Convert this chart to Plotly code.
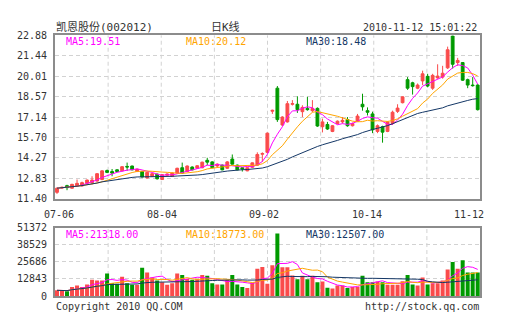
import plotly.graph_objects as go
import pandas as pd

# ---------------- data ----------------
stock_title = "凯恩股份(002012)"
chart_type = "日K线"
timestamp = "2010-11-12 15:01:22"
date_labels = ["07-06", "08-04", "09-02", "10-14", "11-12"]
price_ticks = [11.40, 12.83, 14.27, 15.70, 17.14, 18.57, 20.01, 21.44, 22.88]
volume_ticks = [0, 12843, 25686, 38529, 51372]
price_ma_labels = ["MA5:19.51", "MA10:20.12", "MA30:18.48"]
volume_ma_labels = ["MA5:21318.00", "MA10:18773.00", "MA30:12507.00"]
footer_left = "Copyright 2010 QQ.COM"
footer_right = "http://stock.qq.com"

open_ = [11.85, 12.15, 12.32, 12.14, 12.30, 12.30, 12.48, 12.53, 12.64, 12.75,
         13.38, 13.31, 13.43, 13.36, 13.67, 13.70, 13.31, 13.31, 12.86, 12.98,
         13.13, 12.75, 13.05, 12.98, 13.20, 13.58, 13.31, 13.63, 13.54, 13.58,
         14.10, 13.99, 13.70, 13.76, 13.54, 14.19, 13.76, 13.58, 13.36, 13.61,
         13.76, 14.53, 14.66, 17.55, 19.17, 16.58, 16.80, 18.04, 18.04, 17.52,
         17.75, 17.59, 17.75, 16.46, 16.62, 16.13, 16.69, 16.80, 16.96, 16.53,
         16.85, 18.04, 17.59, 17.36, 16.13, 16.46, 16.13, 16.69, 17.54, 18.15,
         19.77, 19.55, 19.17, 19.68, 20.00, 19.17, 19.89, 19.95, 20.60, 22.84,
         20.97, 20.97, 19.77, 19.39, 19.39]
high = [12.19, 12.25, 12.38, 12.45, 12.75, 12.60, 12.75, 12.98, 13.20, 13.40,
        13.45, 13.49, 13.47, 13.70, 13.94, 13.72, 13.52, 13.36, 13.28, 13.20,
        13.16, 13.13, 13.18, 13.25, 13.58, 13.94, 13.74, 13.67, 13.76, 14.00,
        14.28, 14.03, 13.88, 13.80, 14.05, 14.51, 13.80, 13.60, 13.61, 13.95,
        14.66, 14.66, 16.05, 17.66, 19.32, 17.20, 18.27, 18.33, 18.60, 17.97,
        18.56, 18.33, 17.82, 17.03, 16.80, 16.58, 16.90, 17.14, 17.14, 16.75,
        17.36, 18.78, 17.82, 17.52, 16.62, 16.53, 16.85, 17.59, 18.04, 18.60,
        19.95, 19.62, 19.50, 20.40, 20.18, 20.18, 20.85, 20.74, 22.09, 22.88,
        21.30, 21.00, 19.84, 19.95, 19.45]
low = [11.74, 12.10, 12.00, 12.10, 12.25, 12.25, 12.45, 12.41, 12.60, 12.70,
       13.20, 12.98, 13.28, 13.33, 13.36, 13.40, 13.28, 12.90, 12.83, 12.93,
       12.75, 12.72, 13.00, 12.95, 13.18, 13.16, 13.28, 13.40, 13.50, 13.54,
       13.76, 13.54, 13.62, 13.40, 13.50, 13.80, 13.40, 13.31, 13.33, 13.58,
       13.72, 13.99, 14.60, 17.36, 16.80, 16.50, 16.75, 17.95, 17.43, 17.14,
       17.59, 17.48, 16.45, 16.06, 16.24, 16.08, 16.62, 16.69, 16.46, 16.48,
       16.80, 17.59, 17.25, 16.01, 16.01, 15.34, 16.08, 16.58, 17.43, 18.10,
       19.05, 18.72, 19.10, 19.39, 19.23, 19.05, 19.84, 19.84, 20.52, 20.55,
       20.74, 19.68, 19.17, 19.28, 17.60]
close = [12.14, 12.20, 12.18, 12.41, 12.48, 12.53, 12.71, 12.71, 13.16, 13.36,
         13.25, 13.20, 13.31, 13.65, 13.63, 13.43, 13.47, 12.93, 13.25, 13.16,
         12.80, 13.09, 13.13, 13.20, 13.54, 13.20, 13.70, 13.43, 13.72, 13.97,
         13.97, 13.58, 13.83, 13.43, 13.99, 13.83, 13.43, 13.49, 13.58, 13.92,
         14.51, 14.57, 16.01, 17.61, 16.96, 17.14, 18.08, 18.08, 17.66, 17.82,
         17.66, 17.75, 16.51, 16.80, 16.30, 16.53, 16.85, 16.91, 16.53, 16.69,
         17.21, 17.86, 17.48, 16.24, 16.53, 16.08, 16.80, 17.48, 17.77, 18.56,
         19.17, 19.28, 19.39, 20.18, 19.32, 20.07, 20.02, 20.22, 21.87, 20.85,
         21.12, 19.73, 19.39, 19.35, 17.66]
volume = [4300, 4300, 3600, 6750, 8000, 6750, 8700, 12300, 11600, 11600,
          16900, 9600, 9200, 14500, 9600, 8400, 8400, 21200, 17600, 14000,
          11600, 10400, 8400, 9600, 16900, 15900, 12800, 12300, 12800, 15900,
          15200, 9600, 8700, 8700, 12100, 15900, 8700, 6750, 6000, 9900,
          20500, 21900, 9200, 23200, 47000, 21700, 21700, 15500, 12600, 15200,
          12600, 15200, 10400, 10900, 6300, 5600, 8000, 8000, 6000, 6750,
          6750, 15200, 10400, 10400, 10900, 10400, 8400, 8400, 8400, 11100,
          15900, 8700, 8000, 14000, 8700, 9600, 9600, 11600, 20000, 25500,
          20500, 26800, 17600, 17600, 17600]

# ---------------- styles ----------------
W, H = 505, 330
RED = "#fa4b4b"
GREEN = "#009a00"
MA_COLORS = ["#ff00ff", "#ffa500", "#143766"]
GRID = "#d2d2d2"
BORDER = "#8c8c8c"
TXT = "#333333"
MONO = "DejaVu Sans Mono, Noto Sans CJK SC"

idx = list(range(len(close)))
cs = pd.Series(close)
vs = pd.Series(volume)
periods = [5, 10, 30]
price_ma = [cs.rolling(p, min_periods=1).mean() for p in periods]
vol_ma = [vs.rolling(p, min_periods=1).mean() for p in periods]
vol_colors = [RED if c >= o else GREEN for o, c in zip(open_, close)]

# pixel layout helpers
PX_L, PX_R = 55, 480
PR_T, PR_B = 30.5, 200
VO_T, VO_B = 230, 301
def fx(px):
    return px / W
def fy(py):
    return 1 - py / H

fig = go.Figure()
fig.add_trace(go.Candlestick(
    x=idx, open=open_, high=high, low=low, close=close,
    increasing=dict(line=dict(color=RED, width=1), fillcolor=RED),
    decreasing=dict(line=dict(color=GREEN, width=1), fillcolor=GREEN),
    whiskerwidth=0, hoverinfo="skip", xaxis="x", yaxis="y"))
for ma, col in zip(price_ma, MA_COLORS):
    fig.add_trace(go.Scatter(x=idx, y=ma, mode="lines", line=dict(color=col, width=1),
                             hoverinfo="skip", xaxis="x", yaxis="y"))
fig.add_trace(go.Bar(x=idx, y=volume, marker=dict(color=vol_colors, line=dict(width=0)),
                     hoverinfo="skip", xaxis="x2", yaxis="y2"))
for ma, col in zip(vol_ma, MA_COLORS):
    fig.add_trace(go.Scatter(x=idx, y=ma, mode="lines", line=dict(color=col, width=1),
                             hoverinfo="skip", xaxis="x2", yaxis="y2"))

n = len(close)
xr = [-0.4, (n - 1) + 0.46]
axis_common = dict(showline=True, mirror=True, linecolor=BORDER, linewidth=2,
                   zeroline=False, fixedrange=True)
fig.update_layout(
    width=W, height=H, margin=dict(l=0, r=0, t=0, b=0),
    paper_bgcolor="white", plot_bgcolor="white", showlegend=False,
    hovermode=False, boxgap=0.2, bargap=0.2,
    xaxis=dict(domain=[fx(PX_L), fx(PX_R)], anchor="y", range=xr, showgrid=False,
               showticklabels=False, ticks="", rangeslider=dict(visible=False), **axis_common),
    yaxis=dict(domain=[fy(PR_B), fy(PR_T)], anchor="x", range=[price_ticks[0], price_ticks[-1]],
               tickvals=price_ticks, ticktext=["%.2f" % v for v in price_ticks],
               showgrid=True, gridcolor=GRID, griddash="4px,3px", gridwidth=1,
               ticks="", ticklabelstandoff=4,
               tickfont=dict(family=MONO, size=10, color=TXT), **axis_common),
    xaxis2=dict(domain=[fx(PX_L), fx(PX_R)], anchor="y2", range=xr, showgrid=False,
                showticklabels=False, ticks="", **axis_common),
    yaxis2=dict(domain=[fy(VO_B), fy(VO_T)], anchor="x2", range=[volume_ticks[0], volume_ticks[-1]],
                tickvals=volume_ticks, ticktext=[str(v) for v in volume_ticks],
                showgrid=True, gridcolor=GRID, griddash="4px,3px", gridwidth=1,
                ticks="", ticklabelstandoff=4,
                tickfont=dict(family=MONO, size=10, color=TXT), **axis_common),
)

# vertical dashed grid lines (8 equal divisions in each panel)
shapes = []
for xref, yref in (("x domain", "y domain"), ("x2 domain", "y2 domain")):
    for k in range(1, 8):
        shapes.append(dict(type="line", xref=xref, yref=yref, x0=k / 8, x1=k / 8, y0=0, y1=1,
                           line=dict(color=GRID, width=1, dash="4px,3px"), layer="below"))
fig.update_layout(shapes=shapes)

ann = []
def text(x, y, s, anchor="left", size=10, color=TXT):
    ann.append(dict(x=fx(x), y=fy(y), xref="paper", yref="paper", text=s, showarrow=False,
                    xanchor=anchor, yanchor="middle",
                    font=dict(family=MONO, size=size, color=color)))

text(54, 22, stock_title, size=11)
text(225, 22, chart_type, anchor="center", size=11)
text(479, 22.5, timestamp, anchor="right")
for s, x, col in zip(price_ma_labels, (64, 184, 304), MA_COLORS):
    text(x, 36.5, s, color=col)
for s, x, col in zip(volume_ma_labels, (64, 184, 304), MA_COLORS):
    text(x, 237, s, color=col)
lab_x0, lab_x1 = 59, 469
for k, s in enumerate(date_labels):
    text(lab_x0 + k * (lab_x1 - lab_x0) / (len(date_labels) - 1), 216.5, s, anchor="center")
text(54, 311.5, footer_left)
text(481, 311.5, footer_right, anchor="right")
fig.update_layout(annotations=ann)

fig.write_html("out.html")
